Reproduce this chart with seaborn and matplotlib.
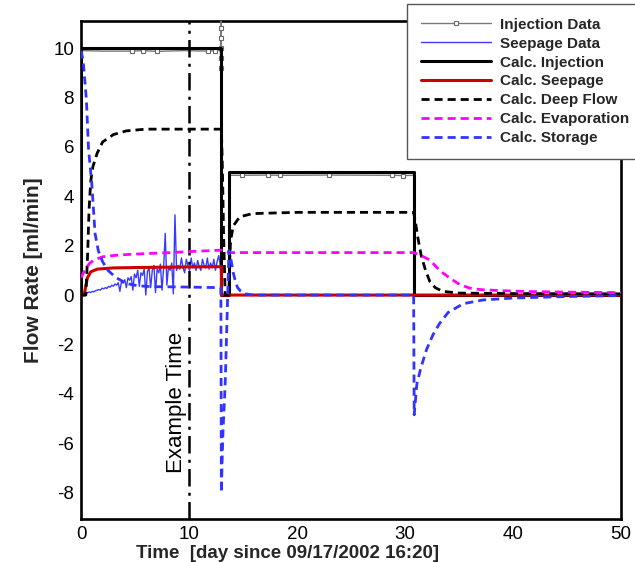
import matplotlib
matplotlib.use("Agg")
import matplotlib.pyplot as plt
import seaborn as sns

sns.set_style("white")
plt.rcParams['font.family'] = ['Liberation Sans', 'DejaVu Sans']
plt.rcParams['axes.unicode_minus'] = False

# ---------------- data ----------------
inj_t = [0.0, 0.05, 2.0, 4.7, 5.7, 7.0, 9.5, 11.8, 12.4, 12.9, 12.96, 12.96, 12.96, 12.96, 12.96, 12.96,
         12.97, 13.0, 13.7, 13.75, 14.9, 17.3, 18.4, 23.0, 28.8, 29.8, 30.8, 30.8, 50.0]
inj_v = [0.0, 9.9, 9.88, 9.88, 9.9, 9.87, 9.9, 9.88, 9.9, 9.9, 9.2, 9.6, 10.0, 10.4, 10.8, 11.3,
         11.8, 0.0, 0.0, 4.85, 4.85, 4.86, 4.85, 4.86, 4.85, 4.84, 4.85, 0.0, 0.0]
inj_marks = [3, 4, 5, 7, 8, 10, 11, 12, 13, 14, 15, 20, 21, 22, 23, 24, 25]

seep_t = [0.0, 0.15, 0.3, 0.45, 0.6, 0.75, 0.9, 1.05, 1.2, 1.35, 1.5,
          1.65, 1.8, 1.95, 2.1, 2.25, 2.4, 2.55, 2.7, 2.85, 3.0,
          3.15, 3.3, 3.45, 3.6, 3.75, 3.9, 4.05, 4.2, 4.35, 4.5,
          4.65, 4.8, 4.95, 5.1, 5.25, 5.4, 5.55, 5.7, 5.85, 6.0,
          6.15, 6.3, 6.45, 6.6, 6.75, 6.9, 7.05, 7.2, 7.35, 7.5,
          7.65, 7.8, 7.95, 8.1, 8.25, 8.4, 8.55, 8.7, 8.85, 9.0,
          9.15, 9.3, 9.45, 9.6, 9.75, 9.9, 10.05, 10.2, 10.35, 10.5,
          10.65, 10.8, 10.95, 11.1, 11.25, 11.4, 11.55, 11.7, 11.85, 12.0,
          12.15, 12.3, 12.45, 12.6, 12.75, 12.9, 13.0]
seep_v = [0.0, 0.05, 0.08, 0.06, 0.1, 0.12, 0.1, 0.15, 0.13, 0.18, 0.2,
          0.22, 0.2, 0.28, 0.25, 0.3, 0.27, 0.35, 0.32, 0.4, 0.36,
          0.45, 0.4, 0.5, 0.15, 0.55, 0.48, 0.62, 0.3, 0.7, 0.6,
          0.75, 0.2, 0.85, 0.7, 1.0, 0.35, 0.9, 0.8, 1.05, 0.0,
          0.95, 1.1, 0.3, 1.0, 1.2, 0.1, 1.05, 0.9, 1.25, 0.2,
          1.1, 2.5, 0.4, 1.15, 1.0, 1.3, 0.05, 3.25, 1.0, 1.2,
          1.05, 1.5, 1.1, 0.9, 1.45, 1.2, 1.0, 1.5, 1.1, 1.3,
          1.0, 1.4, 1.15, 1.0, 1.45, 1.2, 1.1, 1.5, 1.05, 1.3,
          1.1, 1.45, 1.0, 1.35, 1.6, 1.2, 0.05]

cinj_t = [0.0, 0.0, 13.0, 13.0, 13.7, 13.7, 30.8, 30.8, 50.0]
cinj_v = [0.0, 10.0, 10.0, 0.0, 0.0, 5.0, 5.0, 0.0, 0.0]

cseep_t = [0.0, 0.3, 0.45, 0.6, 0.9, 1.5, 3.0, 6.0, 10.0, 13.0, 13.0, 50.0]
cseep_v = [0.0, 0.0, 0.4, 0.7, 0.94, 1.05, 1.1, 1.12, 1.14, 1.15, 0.0, 0.0]

deep_t = [0.0, 0.45, 0.6, 0.75, 0.9, 1.1, 1.5, 2.0, 3.0, 4.2, 6.0, 9.0, 13.0, 13.1, 13.2, 13.35,
          13.7, 13.75, 13.85, 14.1, 14.7, 15.9, 20.0, 25.0, 30.8, 30.95, 31.2, 31.5, 31.9,
          32.3, 32.8, 33.5, 35.0, 40.0, 50.0]
deep_v = [0.0, 0.0, 1.5, 3.5, 4.6, 5.2, 5.75, 6.2, 6.5, 6.65, 6.72, 6.72, 6.72, 5.0, 2.5, 0.0,
          0.0, 1.2, 2.2, 2.8, 3.17, 3.3, 3.35, 3.35, 3.35, 3.0, 2.3, 1.6, 1.0,
          0.55, 0.3, 0.15, 0.08, 0.06, 0.05]

evap_t = [0.0, 0.2, 0.5, 0.83, 1.2, 2.0, 3.0, 4.2, 6.0, 8.3, 10.0, 13.0, 13.4, 13.7, 20.0, 30.8,
          31.4, 32.3, 33.2, 34.2, 35.1, 36.0, 37.0, 38.8, 41.6, 45.0, 50.0]
evap_v = [0.7, 0.88, 1.12, 1.3, 1.42, 1.55, 1.6, 1.64, 1.68, 1.72, 1.76, 1.82, 1.8, 1.72, 1.72, 1.72,
          1.62, 1.42, 1.0, 0.67, 0.42, 0.28, 0.22, 0.18, 0.14, 0.12, 0.1]

stor_t = [0.0, 0.2, 0.5, 0.7, 1.0, 1.3, 1.6, 2.0, 2.5, 3.2, 4.2, 5.2, 6.5, 9.0, 12.95, 13.0, 13.05,
          13.15, 13.35, 13.7, 13.9, 14.1, 14.3, 14.5, 14.8, 15.2, 16.0, 20.0, 30.8, 30.85, 31.1,
          31.5, 32.0, 32.6, 33.2, 34.0, 35.4, 37.2, 40.0, 45.0, 50.0]
stor_v = [9.9, 9.5, 7.9, 5.9, 4.5, 2.5, 1.8, 1.35, 1.0, 0.72, 0.47, 0.38, 0.34, 0.33, 0.3, -8.0, -7.0,
          -5.5, -3.6, 1.8, 1.4, 0.9, 0.55, 0.3, 0.15, 0.05, 0.0, 0.0, 0.0, -4.85, -3.6,
          -2.9, -2.2, -1.6, -1.15, -0.7, -0.35, -0.2, -0.12, -0.06, -0.02]

example_t = 10.0

# ---------------- figure ----------------
fig = plt.figure(figsize=(6.35, 5.62), dpi=100)
ax = fig.add_axes([81/635, 1 - 519/562, 540/635, 498/562])

common = dict(ax=ax, estimator=None, sort=False)
dash = (0, (2.9, 1.8))

sns.lineplot(x=inj_t, y=inj_v, color='#7a7a7a', lw=1.0, marker='s', markersize=3,
             markerfacecolor='white', markeredgecolor='#6a6a6a', markeredgewidth=0.8,
             markevery=inj_marks, label='Injection Data', zorder=3, **common)
sns.lineplot(x=seep_t, y=seep_v, color='#3a3aff', lw=1.0, label='Seepage Data', zorder=3, **common)
sns.lineplot(x=cinj_t, y=cinj_v, color='black', lw=2.2, label='Calc. Injection', zorder=4, **common)
sns.lineplot(x=cseep_t, y=cseep_v, color='#cc0000', lw=2.2, label='Calc. Seepage', zorder=5, **common)
sns.lineplot(x=deep_t, y=deep_v, color='black', lw=2.0, linestyle=dash, label='Calc. Deep Flow', zorder=5, **common)
sns.lineplot(x=evap_t, y=evap_v, color='#ff00ff', lw=2.0, linestyle=dash, label='Calc. Evaporation', zorder=5, **common)
sns.lineplot(x=stor_t, y=stor_v, color='#3333ff', lw=2.0, linestyle=dash, label='Calc. Storage', zorder=6, **common)

ax.axvline(example_t, color='black', lw=1.8, linestyle=(0, (7, 2.5, 1.2, 2.5)), zorder=4)
ax.text(9.8, -4.35, 'Example Time', rotation=90, ha='right', va='center', fontsize=16, color='black')

ax.set_xlim(0, 50)
ax.set_ylim(-9.07, 11.1)
ax.set_xticks([0, 10, 20, 30, 40, 50])
ax.set_xticks([2, 4, 6, 8, 12, 14, 16, 18, 22, 24, 26, 28, 32, 34, 36, 38, 42, 44, 46, 48], minor=True)
ax.set_yticks([-8, -6, -4, -2, 0, 2, 4, 6, 8, 10])
ax.set_yticks([v / 2 for v in range(-18, 23) if v % 4 != 0], minor=True)
ax.tick_params(which='both', direction='in', top=False, right=False, labelsize=13.5, colors='black')
ax.tick_params(which='major', length=9, width=1.8, pad=5)
ax.tick_params(which='minor', length=5, width=1.2)
for s in ax.spines.values():
    s.set_linewidth(1.9)
    s.set_color('black')

ax.set_xlabel('Time  [day since 09/17/2002 16:20]', fontsize=13.5, fontweight='bold', labelpad=0)
ax.xaxis.set_label_coords((288 - 81) / 540, -0.052)
ax.set_ylabel('Flow Rate [ml/min]', fontsize=15, fontweight='bold', labelpad=7)

leg = ax.legend(loc='upper left', bbox_to_anchor=(407/635, 1 - 4/562), bbox_transform=fig.transFigure,
                frameon=True, fancybox=False, framealpha=1, edgecolor='#555555',
                prop={'weight': 'bold', 'size': 11}, handlelength=4.6, handletextpad=0.6,
                borderpad=0.9, labelspacing=0.32, borderaxespad=0)
leg.get_frame().set_linewidth(1.0)
leg.set_zorder(10)

fig.savefig('out.png', dpi=100)
